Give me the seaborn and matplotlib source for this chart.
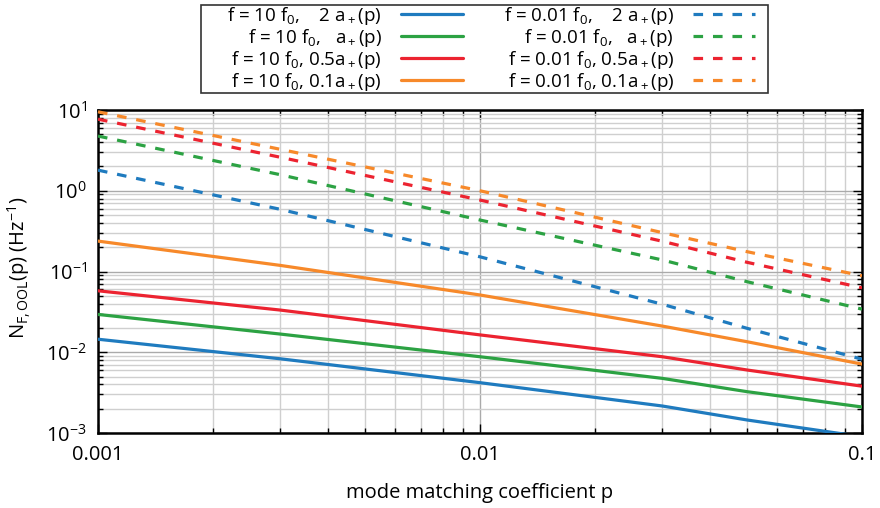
import numpy as np
import pandas as pd
import matplotlib
matplotlib.use("Agg")
import matplotlib.pyplot as plt
import matplotlib.ticker as mticker
from matplotlib.patches import Rectangle
import seaborn as sns

# Mode matching coefficient p
p = [0.001, 0.003, 0.01, 0.03, 0.05, 0.1]

# Out-of-loop frequency noise, f = 10 f0 (solid)
n_hi_2a = [0.0145, 0.0083, 0.0042, 0.00216, 0.00145, 0.0009]
n_hi_1a = [0.0294, 0.0168, 0.0088, 0.00475, 0.00325, 0.0021]
n_hi_05a = [0.0577, 0.0333, 0.0164, 0.0088, 0.00603, 0.0038]
n_hi_01a = [0.238, 0.119, 0.0512, 0.0211, 0.0135, 0.00713]

# Out-of-loop frequency noise, f = 0.01 f0 (dashed)
n_lo_2a = [1.8, 0.589, 0.152, 0.0393, 0.0198, 0.0082]
n_lo_1a = [4.76, 1.58, 0.434, 0.139, 0.0748, 0.0342]
n_lo_05a = [7.7, 2.6, 0.767, 0.237, 0.130, 0.0628]
n_lo_01a = [9.5, 3.26, 1.0, 0.303, 0.176, 0.0885]

labels_hi = [
    r"f = 10 f$_0$,    2 a$_+$(p)",
    r"f = 10 f$_0$,   a$_+$(p)",
    r"f = 10 f$_0$, 0.5a$_+$(p)",
    r"f = 10 f$_0$, 0.1a$_+$(p)",
]
labels_lo = [
    r"f = 0.01 f$_0$,    2 a$_+$(p)",
    r"f = 0.01 f$_0$,   a$_+$(p)",
    r"f = 0.01 f$_0$, 0.5a$_+$(p)",
    r"f = 0.01 f$_0$, 0.1a$_+$(p)",
]
x_tick_values = [0.001, 0.01, 0.1]
x_tick_labels = ["0.001", "0.01", "0.1"]

colors = ["#1f7bbf", "#2ca243", "#ec2330", "#f7892a"]

sns.set_theme(style="ticks")
plt.rcParams["font.family"] = ["Open Sans", "DejaVu Sans"]
plt.rcParams["mathtext.fontset"] = "custom"
plt.rcParams["mathtext.rm"] = "Open Sans"
plt.rcParams["mathtext.it"] = "Open Sans:italic"
plt.rcParams["mathtext.bf"] = "Open Sans:bold"
plt.rcParams["font.size"] = 14.5
plt.rcParams["text.color"] = "black"
plt.rcParams["axes.labelcolor"] = "black"
plt.rcParams["xtick.color"] = "black"
plt.rcParams["ytick.color"] = "black"

fig = plt.figure(figsize=(8.8, 5.08), dpi=100)
ax = fig.add_axes([98 / 880, 1 - 433 / 508, 764 / 880, 323 / 508])

series_hi = [n_hi_2a, n_hi_1a, n_hi_05a, n_hi_01a]
series_lo = [n_lo_2a, n_lo_1a, n_lo_05a, n_lo_01a]

handles = []
for vals, lab, col in zip(series_hi, labels_hi, colors):
    df = pd.DataFrame({"p": p, "N": vals})
    sns.lineplot(data=df, x="p", y="N", ax=ax, color=col, lw=2.3,
                 estimator=None, label=lab, zorder=3)
    handles.append(ax.lines[-1])
for vals, lab, col in zip(series_lo, labels_lo, colors):
    df = pd.DataFrame({"p": p, "N": vals})
    sns.lineplot(data=df, x="p", y="N", ax=ax, color=col, lw=2.3,
                 estimator=None, label=lab, zorder=3)
    ln = ax.lines[-1]
    ln.set_dashes((3.0, 3.1))
    handles.append(ln)

ax.set_xscale("log")
ax.set_yscale("log")
ax.set_xlim(0.001, 0.1)
ax.set_ylim(1e-3, 10)

ax.xaxis.set_major_locator(mticker.FixedLocator(x_tick_values))
ax.xaxis.set_major_formatter(mticker.FixedFormatter(x_tick_labels))
ax.xaxis.set_minor_locator(mticker.LogLocator(base=10, subs=np.arange(2, 10)))
ax.xaxis.set_minor_formatter(mticker.NullFormatter())
ax.yaxis.set_major_locator(mticker.LogLocator(base=10, numticks=10))
ax.yaxis.set_minor_locator(mticker.LogLocator(base=10, subs=np.arange(2, 10), numticks=10))
ax.yaxis.set_minor_formatter(mticker.NullFormatter())

ax.set_axisbelow(True)
ax.grid(True, which="major", color="#aaaaaa", lw=1.0)
ax.grid(True, which="minor", color="#cfcfcf", lw=1.0)

ax.tick_params(which="both", direction="in", top=True, right=True,
               color="black", width=1.0, labelsize=14.5, labelcolor="black")
ax.tick_params(which="major", length=6.5)
ax.tick_params(which="minor", length=3.6)
ax.tick_params(axis="x", which="major", pad=9)
ax.tick_params(axis="y", which="major", pad=8)

for s in ax.spines.values():
    s.set_linewidth(1.8)
    s.set_color("black")

ax.set_xlabel("mode matching coefficient p", fontsize=14.5, color="black")
ax.set_ylabel(r"N$_{\mathrm{F,OOL}}$(p) (Hz$^{-1}$)", fontsize=14.5, color="black")
ax.xaxis.set_label_coords(0.5, -0.155)
ax.yaxis.set_label_coords(-0.085, 0.512)

ax.get_legend().remove()
leg = fig.legend(handles=handles, labels=labels_hi + labels_lo, ncol=2,
                 loc="center", bbox_to_anchor=(491 / 880, 1 - 49 / 508),
                 bbox_transform=fig.transFigure, borderaxespad=0,
                 markerfirst=False, handlelength=3.3, handletextpad=1.0,
                 columnspacing=2.2, labelspacing=0.0, borderpad=0.0,
                 fontsize=13.5, frameon=False)
for t in leg.get_texts():
    t.set_color("black")

# legend frame box
fig.patches.append(Rectangle((201 / 880, 1 - 93 / 508), 567 / 880, 88 / 508,
                             transform=fig.transFigure, fill=False,
                             edgecolor="#333333", lw=1.2, zorder=5))

fig.savefig("out.png", dpi=100)
